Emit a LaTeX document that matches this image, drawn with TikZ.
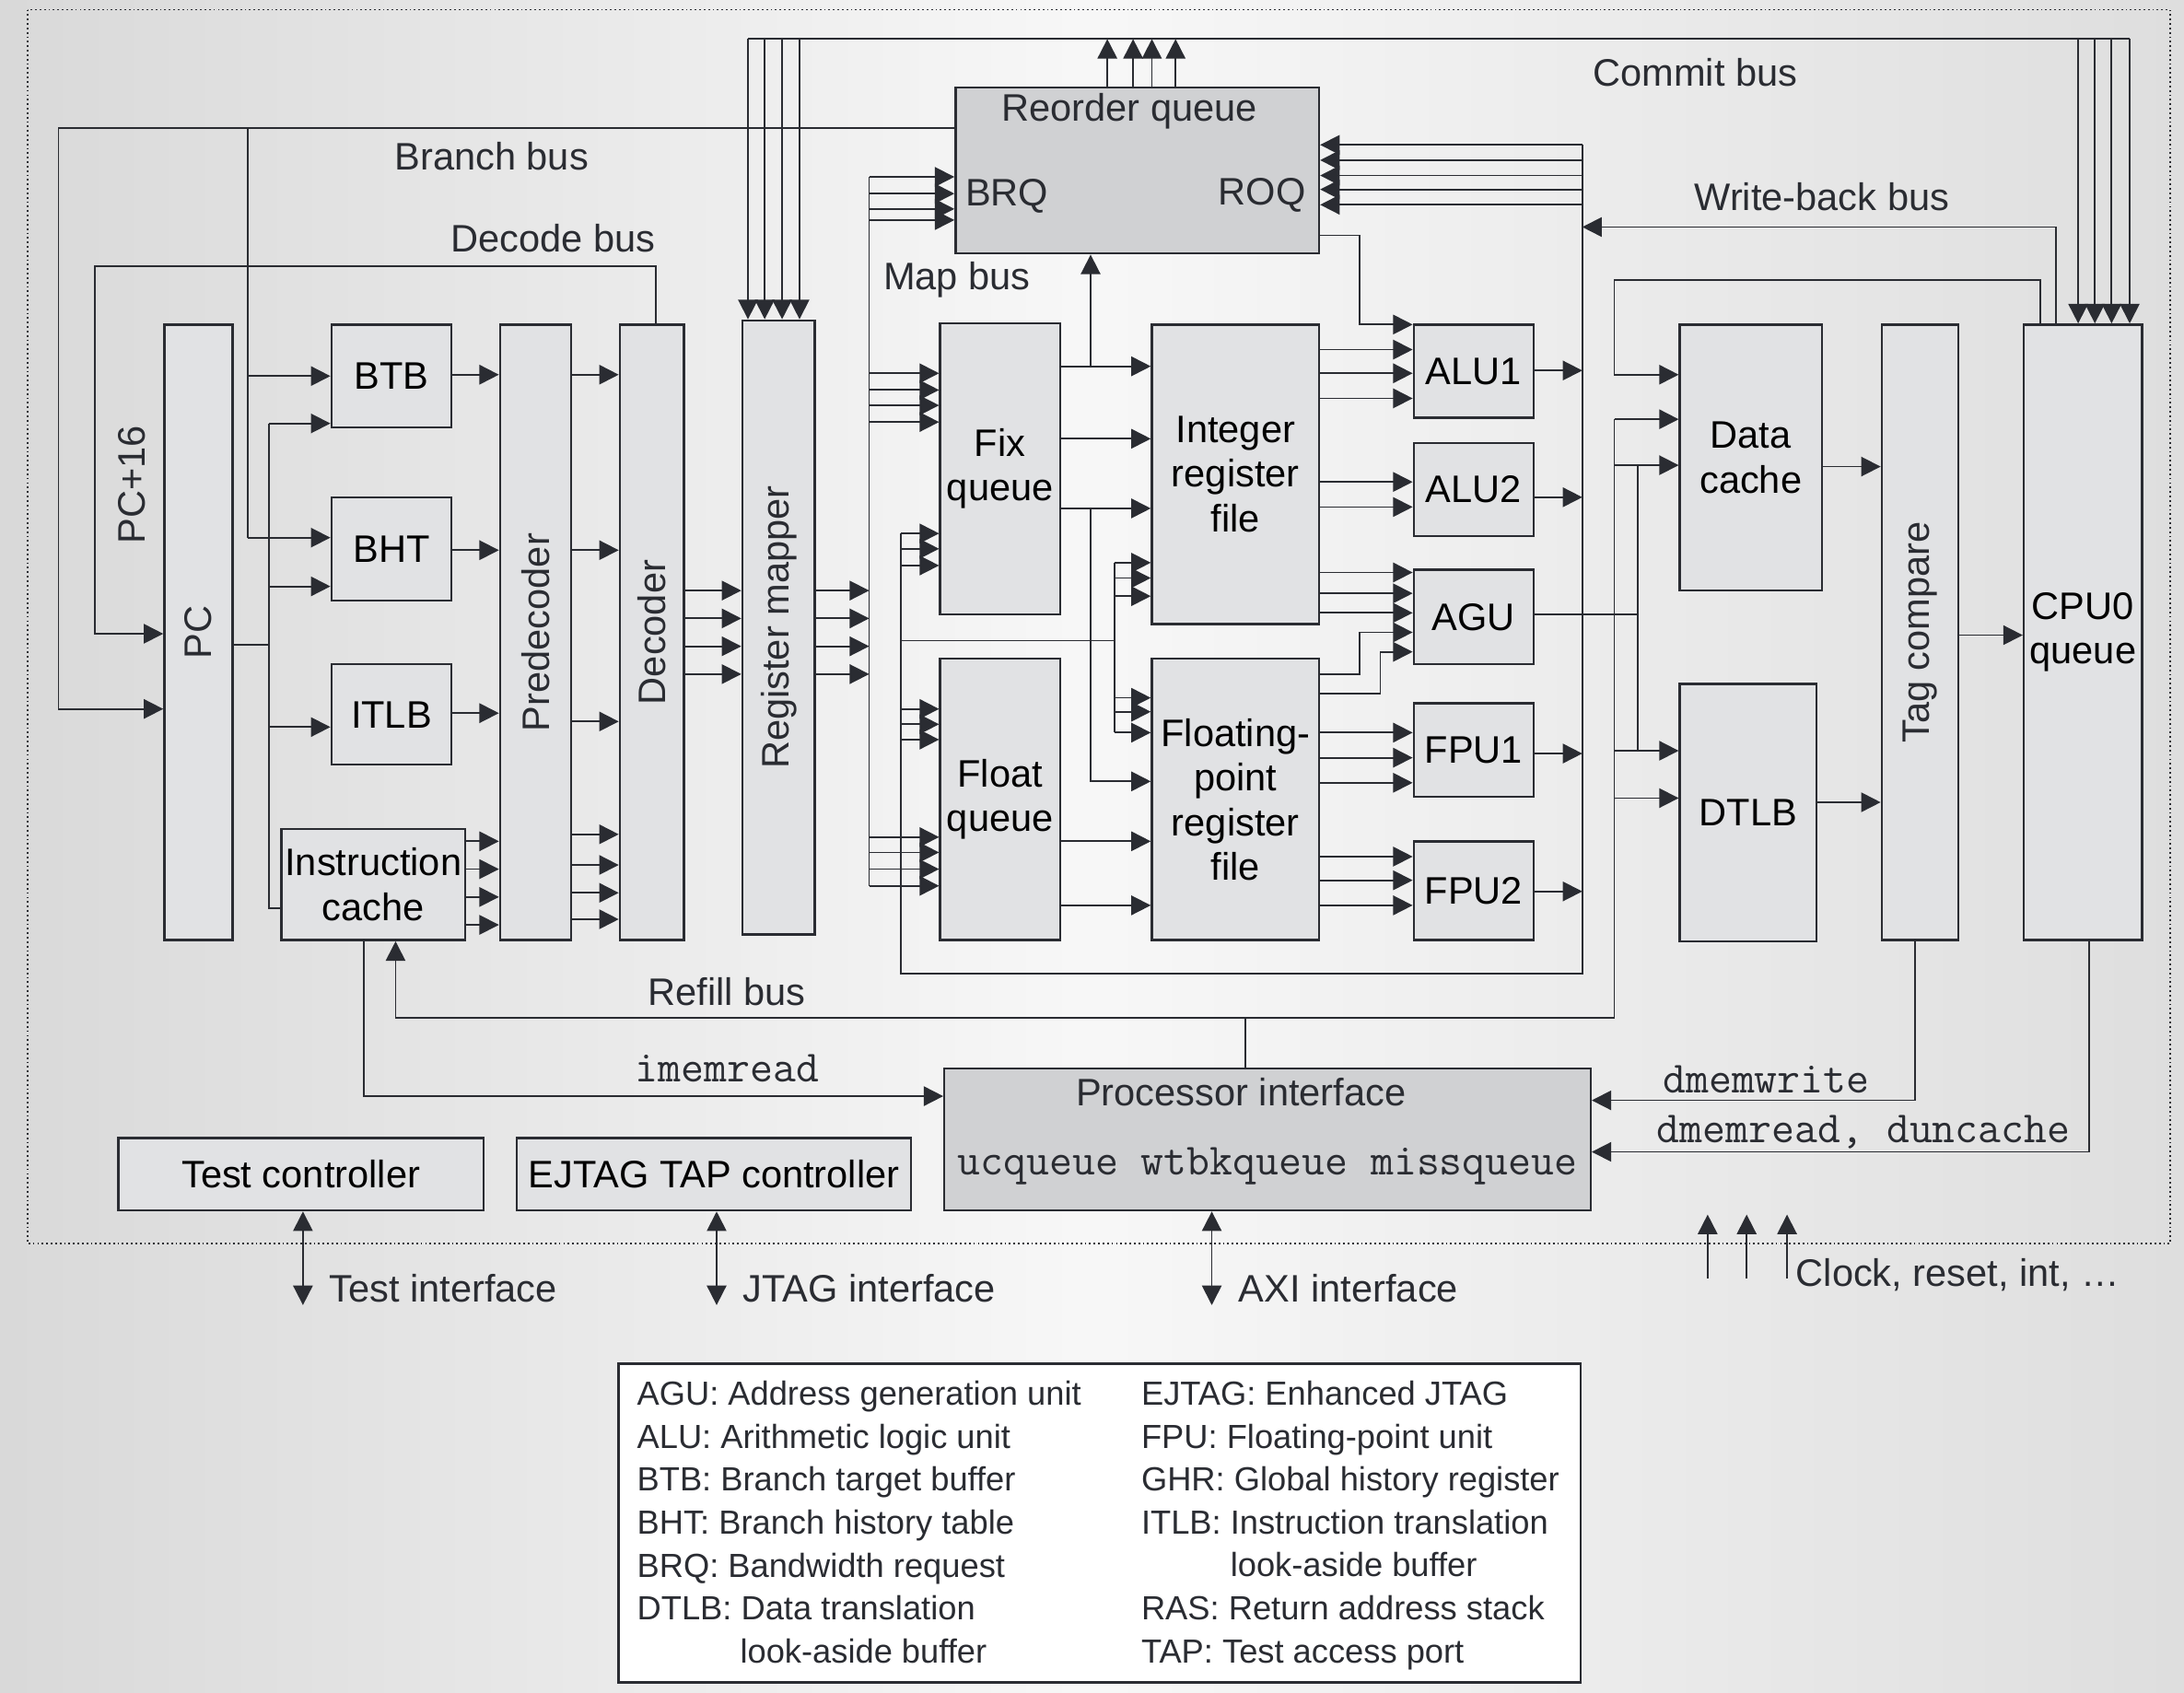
\documentclass[tikz,border=0pt]{standalone}
\usepackage{fontspec}
\setmainfont{Liberation Sans}
\usepackage{xcolor}
\usepackage{tikz}
\usetikzlibrary{arrows.meta}
\definecolor{linec}{RGB}{42,44,50}
\definecolor{boxc}{RGB}{225,226,228}
\definecolor{boxd}{RGB}{208,209,211}
\newcommand{\boxfont}{\fontsize{13.75}{16}\selectfont}
\newcommand{\keyfont}{\fontsize{12}{15.4}\selectfont}
\newcommand{\sigfont}{\fontsize{16}{18}\selectfont\ttfamily}
\tikzset{
  blk/.style={draw=linec, fill=boxc, line width=0.8pt, inner sep=0pt, align=center, font=\boxfont},
  span/.style 2 args={minimum width=#1*0.5pt, minimum height=#2*0.5pt},
  wire/.style={draw=linec, line width=0.6pt},
  arr/.style={wire, ->},
  bus/.style={font=\boxfont, text=linec, inner sep=0pt},
  sig/.style={font=\sigfont, text=linec, inner sep=0pt},
  keyline/.style={font=\keyfont, text=linec, inner sep=0pt, anchor=base west},
  vlab/.style={rotate=90, font=\boxfont, text=linec},
}

\begin{document}
\begin{tikzpicture}[x=0.5pt, y=-0.5pt, >={Triangle[length=7pt,width=7pt]}]
\shade[left color=black!15, right color=black!13, middle color=black!3] (0,0) rectangle (1568,1215);
\useasboundingbox (0,0) rectangle (1568,1215);
\draw[linec, densely dotted, line width=0.6pt] (20,7) rectangle (1558,893);

% front end
\node[blk, span={49}{442}, label={[vlab]center:PC}] (pc) at (142.5,454) {};
\node[bus, rotate=90] (pcinc) at (95,348) {PC+16};
\foreach \nm/\txt/\yc/\hgt in {btb/BTB/270/74, bht/BHT/394/74, itlb/ITLB/513/72}
  \node[blk, span={86}{\hgt}] (\nm) at (281,\yc) {\txt};
\node[blk, span={132}{80}] (icache) at (268,635) {Instruction\\cache};
\node[blk, span={51}{442}, label={[vlab]center:Predecoder}] (pred) at (384.5,454) {};
\node[blk, span={46}{442}, label={[vlab]center:Decoder}] (dec) at (468,454) {};
\node[blk, span={52}{441}, label={[vlab]center:Register mapper}] (rmap) at (559,450.5) {};

% reorder queue and issue
\node[blk, fill=boxd, span={261}{119}] (roq) at (816.5,122.5) {};
\node[bus] (roqname) at (811,80) {Reorder queue};
\node[bus] (brqtag) at (723,141) {BRQ};
\node[bus] (roqtag) at (906,140) {ROQ};
\node[blk, span={86}{209}] (fixq) at (718,336.5) {Fix\\queue};
\node[blk, span={86}{202}] (fltq) at (718,574) {Float\\queue};
\node[blk, span={120}{215}] (irf) at (887,340.5) {Integer\\register\\file};
\node[blk, span={120}{202}] (frf) at (887,574) {Floating-\\point\\register\\file};
\foreach \nm/\txt/\yc/\hgt in {alu1/ALU1/266.5/67, alu2/ALU2/351.5/67, agu/AGU/443/68, fpu1/FPU1/538.5/67, fpu2/FPU2/639.5/71}
  \node[blk, span={86}{\hgt}] (\nm) at (1058,\yc) {\txt};

% memory side
\node[blk, span={102}{191}] (dcache) at (1257,328.5) {Data\\cache};
\node[blk, span={98}{185}] (dtlb) at (1255,583.5) {DTLB};
\node[blk, span={55}{442}, label={[vlab]center:Tag compare}] (tagc) at (1378.5,454) {};
\node[blk, span={85}{442}] (cpuq) at (1495.5,454) {CPU0\\queue};
\node[blk, fill=boxd, span={464}{102}] (pif) at (910,818) {};
\node[bus] (pifname) at (891,784) {Processor interface};
\node[sig] (pifq) at (910,837) {ucqueue wtbkqueue missqueue};
\node[blk, span={262}{52}] (testc) at (216,843) {Test controller};
\node[blk, span={283}{52}] (ejtag) at (512.5,843) {EJTAG TAP controller};

% branch and decode buses
\draw[arr] (roq.west |- 0,92) -- (42,92) -- (42,509) -- (pc.west |- 0,509);
\draw[wire] (178,92) -- (178,386);
\draw[arr] (178,270) -- (btb.west |- 0,270);
\draw[arr] (178,386) -- (bht.west |- 0,386);
\draw[arr] (dec.north -| 471,0) -- (471,191) -- (68,191) -- (68,455) -- (pc.west |- 0,455);
\draw[wire] (pc.east |- 0,463) -- (193,463);
\draw[wire] (193,304) -- (193,652) -- (icache.west |- 0,652);
\foreach \y/\nm in {304/btb, 421/bht, 522/itlb}
  \draw[arr] (193,\y) -- (\nm.west |- 0,\y);
\foreach \y/\nm in {269/btb, 395/bht, 512/itlb}
  \draw[arr] (\nm.east |- 0,\y) -- (pred.west |- 0,\y);
\foreach \y in {604,624,644,664}
  \draw[arr] (icache.east |- 0,\y) -- (pred.west |- 0,\y);
\foreach \y in {269,395,518,599,621,641,660}
  \draw[arr] (pred.east |- 0,\y) -- (dec.west |- 0,\y);
\foreach \y in {424,444,464,484} {
  \draw[arr] (dec.east |- 0,\y) -- (rmap.west |- 0,\y);
  \draw[arr] (rmap.east |- 0,\y) -- (624,\y);
}

% map bus
\draw[wire] (624,127) -- (624,636);
\foreach \y in {127,139,150,158} \draw[arr] (624,\y) -- (roq.west |- 0,\y);
\foreach \y in {268,280,291,303} \draw[arr] (624,\y) -- (fixq.west |- 0,\y);
\foreach \y in {601,612,624,636} \draw[arr] (624,\y) -- (fltq.west |- 0,\y);

% write-back bus
\draw[wire] (1136,104) -- (1136,699) -- (647,699) -- (647,383);
\foreach \y in {383,394,406} \draw[arr] (647,\y) -- (fixq.west |- 0,\y);
\foreach \y in {509,520,531} \draw[arr] (647,\y) -- (fltq.west |- 0,\y);
\draw[wire] (647,460) -- (800,460);
\draw[wire] (800,404) -- (800,526);
\foreach \y in {404,415,428} \draw[arr] (800,\y) -- (irf.west |- 0,\y);
\foreach \y in {501,511,526} \draw[arr] (800,\y) -- (frf.west |- 0,\y);
\foreach \y in {104,115,126,136,147} \draw[arr] (1136,\y) -- (roq.east |- 0,\y);
\foreach \nm/\y in {alu1/266, alu2/357, fpu1/541, fpu2/640}
  \draw[arr] (\nm.east |- 0,\y) -- (1136,\y);
\draw[arr] (cpuq.north -| 1476,0) -- (1476,163) -- (1136,163);

% queues to register files and units
\foreach \y in {263,315,365} \draw[arr] (fixq.east |- 0,\y) -- (irf.west |- 0,\y);
\draw[arr] (783,263) -- (roq.south -| 783,0);
\draw[arr] (783,365) -- (783,561) -- (frf.west |- 0,561);
\foreach \y in {604,650} \draw[arr] (fltq.east |- 0,\y) -- (frf.west |- 0,\y);
\draw[arr] (roq.east |- 0,169) -- (976,169) -- (976,233) -- (alu1.west |- 0,233);
\foreach \y in {251,268,286} \draw[arr] (irf.east |- 0,\y) -- (alu1.west |- 0,\y);
\foreach \y in {346,364} \draw[arr] (irf.east |- 0,\y) -- (alu2.west |- 0,\y);
\foreach \y in {411,426,440} \draw[arr] (irf.east |- 0,\y) -- (agu.west |- 0,\y);
\draw[arr] (frf.east |- 0,484) -- (976,484) -- (976,454) -- (agu.west |- 0,454);
\draw[arr] (frf.east |- 0,498) -- (991,498) -- (991,468) -- (agu.west |- 0,468);
\foreach \y in {526,544,562} \draw[arr] (frf.east |- 0,\y) -- (fpu1.west |- 0,\y);
\foreach \y in {615,632,650} \draw[arr] (frf.east |- 0,\y) -- (fpu2.west |- 0,\y);

% data side
\draw[wire] (agu.east |- 0,441) -- (1176,441);
\draw[wire] (1176,334) -- (1176,539);
\draw[wire] (1159,301) -- (1159,731);
\foreach \y in {301,334} \draw[arr] (1159,\y) -- (dcache.west |- 0,\y);
\foreach \y in {539,573} \draw[arr] (1159,\y) -- (dtlb.west |- 0,\y);
\draw[arr] (cpuq.north -| 1465,0) -- (1465,201) -- (1159,201) -- (1159,269) -- (dcache.west |- 0,269);
\draw[arr] (dcache.east |- 0,335) -- (tagc.west |- 0,335);
\draw[arr] (dtlb.east |- 0,576) -- (tagc.west |- 0,576);
\draw[arr] (tagc.east |- 0,456) -- (cpuq.west |- 0,456);

% commit bus
\draw[wire] (537,28) -- (1529,28);
\foreach \x in {537,549,561.5,574} \draw[arr] (\x,28) -- (rmap.north -| \x,0);
\foreach \x in {1492,1504,1516,1529} \draw[arr] (\x,28) -- (cpuq.north -| \x,0);
\foreach \x in {795,813.5,827,844} \draw[arr] (roq.north -| \x,0) -- (\x,28);

% refill bus and memory interface
\draw[arr] (1159,731) -- (284,731) -- (icache.south -| 284,0);
\draw[wire] (pif.north -| 894,0) -- (894,731);
\draw[arr] (icache.south -| 261,0) -- (261,787) -- (pif.west |- 0,787);
\draw[arr] (tagc.south -| 1375,0) -- (1375,790) -- (pif.east |- 0,790);
\draw[arr] (cpuq.south -| 1500,0) -- (1500,827) -- (pif.east |- 0,827);

% outside interfaces
\coordinate (testio) at (217.5,937);
\coordinate (jtagio) at (514.5,937);
\coordinate (axiio) at (870,937);
\draw[wire, <->] (testc.south -| testio) -- (testio);
\draw[wire, <->] (ejtag.south -| jtagio) -- (jtagio);
\draw[wire, <->] (pif.south -| axiio) -- (axiio);
\foreach \x in {1226,1254,1283} {
  \coordinate (clk\x) at (\x,918);
  \draw[arr] (clk\x) -- (\x,872);
}

% bus labels
\node[bus] (commitlbl) at (1217,52) {Commit bus};
\node[bus] (branchlbl) at (353,112) {Branch bus};
\node[bus] (decodelbl) at (397,171) {Decode bus};
\node[bus] (maplbl) at (687,201) {Map bus};
\node[bus] (wblbl) at (1308,141) {Write-back bus};
\node[bus] (refilllbl) at (522,712) {Refill bus};
\node[sig] (imemlbl) at (522,767) {imemread};
\node[sig] (dwlbl) at (1268,775) {dmemwrite};
\node[sig] (drlbl) at (1338,813) {dmemread, duncache};
\node[bus, anchor=west] (testlbl) at (236,925) {Test interface};
\node[bus, anchor=west] (jtaglbl) at (533,925) {JTAG interface};
\node[bus, anchor=west] (axilbl) at (889,925) {AXI interface};
\node[bus, anchor=west] (clklbl) at (1289,915) {Clock, reset, int, \dots};

% legend
\node[draw=linec, fill=white, line width=0.8pt, span={691}{229}] (legend) at (789.5,1093.5) {};
\foreach \i/\txt in {0/{AGU: Address generation unit}, 1/{ALU: Arithmetic logic unit},
    2/{BTB: Branch target buffer}, 3/{BHT: Branch history table},
    4/{BRQ: Bandwidth request}, 5/{DTLB: Data translation}}
  \node[keyline] (keyl\i) at (457,{1009+30.8*\i}) {\txt};
\node[keyline] (keyl6) at (531,1194) {look-aside buffer};
\foreach \i/\txt in {0/{EJTAG: Enhanced JTAG}, 1/{FPU: Floating-point unit},
    2/{GHR: Global history register}, 3/{ITLB: Instruction translation},
    5/{RAS: Return address stack}, 6/{TAP: Test access port}}
  \node[keyline] (keyr\i) at (819,{1009+30.8*\i}) {\txt};
\node[keyline] (keyr4) at (883,1132) {look-aside buffer};
\end{tikzpicture}
\end{document}
